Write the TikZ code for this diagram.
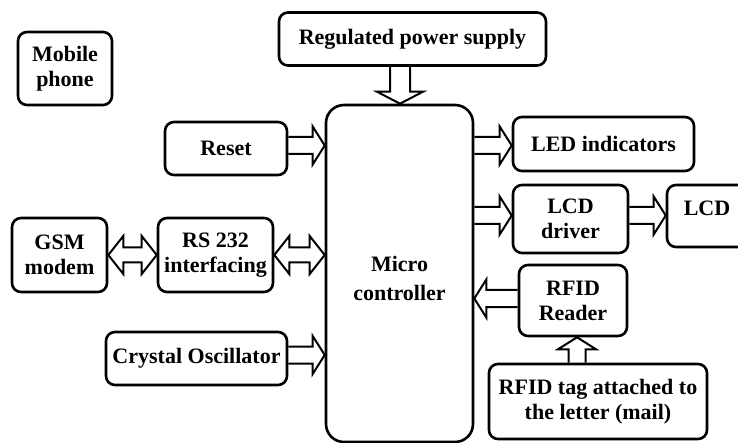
\documentclass[tikz,border=0pt]{standalone}
\usepackage{fontspec}
\setmainfont{Liberation Serif}
\usetikzlibrary{calc}
\newcommand{\faw}{8.5pt}
\newcommand{\faH}{19pt}
\newcommand{\faL}{12pt}
\tikzset{
  txt/.style={align=center, inner sep=0pt, font=\fontsize{22}{25}\selectfont\bfseries},
  box/.style={txt, draw, line width=2.6pt, rounded corners=9pt},
  fat/.style={line width=2pt, line join=miter, to path={
     ($(\tikztotarget)!\faL!(\tikztostart)$) coordinate (fab)
     ($(\tikztostart)!\faw!90:(fab)$) -- ($(fab)!\faw!-90:(\tikztostart)$)
       -- ($(fab)!\faH!-90:(\tikztostart)$) -- (\tikztotarget)
       -- ($(fab)!\faH!90:(\tikztostart)$) -- ($(fab)!\faw!90:(\tikztostart)$)
       -- ($(\tikztostart)!\faw!-90:(fab)$)}},
  fatboth/.style={line width=2pt, line join=miter, to path={
     ($(\tikztostart)!15pt!(\tikztotarget)$) coordinate (faa)
     ($(\tikztotarget)!15pt!(\tikztostart)$) coordinate (fab)
     (\tikztostart) -- ($(faa)!\faH!90:(fab)$) -- ($(faa)!7.5pt!90:(fab)$)
       -- ($(fab)!7.5pt!-90:(faa)$) -- ($(fab)!\faH!-90:(faa)$) -- (\tikztotarget)
       -- ($(fab)!\faH!90:(faa)$) -- ($(fab)!7.5pt!90:(faa)$)
       -- ($(faa)!7.5pt!-90:(fab)$) -- ($(faa)!\faH!-90:(fab)$) -- cycle}}
}
\begin{document}
\begin{tikzpicture}[x=1pt,y=-1pt]
\useasboundingbox[fill=white] (0,0) rectangle (738,443);
% boxes
\node[box, minimum width=94pt, minimum height=73pt] (mobile) at (65,68.5) {Mobile\\phone};
\node[box, minimum width=267pt, minimum height=53pt] (power) at (412.5,39) {Regulated power supply};
\node[box, minimum width=122pt, minimum height=53pt] (reset) at (226,148.5) {Reset};
\node[box, minimum width=95pt, minimum height=74pt] (gsm) at (59.5,255) {GSM\\modem};
\node[box, minimum width=115pt, minimum height=74pt] (rs) at (215.5,255) {RS 232\\interfacing};
\node[box, minimum width=181pt, minimum height=53pt] (crystal) at (196.5,358.5) {Crystal Oscillator};
\node[box, rounded corners=18pt, minimum width=147pt, minimum height=337pt] (mc) at (399.5,273.5) {};
\node[txt, font=\fontsize{22}{29}\selectfont\bfseries] (mctext) at (399.5,278) {Micro\\controller};
\node[box, minimum width=181pt, minimum height=54pt] (led) at (603.5,144) {LED indicators};
\node[box, minimum width=115pt, minimum height=68pt] (lcddrv) at (570.5,219) {LCD\\driver};
\node[box, minimum width=80pt, minimum height=62pt, text height=15pt, text depth=16pt] (lcd) at (707,216) {LCD};
\node[box, minimum width=108pt, minimum height=71pt] (reader) at (573,300.5) {RFID\\Reader};
\node[box, minimum width=218pt, minimum height=75pt] (tag) at (598,401.5) {RFID tag attached to\\the letter (mail)};
% connector end points
\coordinate (p1) at ([xshift=-12.5pt]power.south);
\coordinate (p2) at (p1 |- mc.north);
\coordinate (r1) at ([yshift=3pt]reset.east);
\coordinate (r2) at (r1 -| mc.west);
\coordinate (s2) at (rs.east -| mc.west);
\coordinate (c1) at ([yshift=3.5pt]crystal.east);
\coordinate (c2) at (c1 -| mc.west);
\coordinate (l2) at ([yshift=-1.5pt]led.west);
\coordinate (l1) at (l2 -| mc.east);
\coordinate (d2) at ([yshift=3.5pt]lcddrv.west);
\coordinate (d1) at (d2 -| mc.east);
\coordinate (d3) at ([yshift=3.5pt]lcddrv.east);
\coordinate (d4) at (d3 -| lcd.west);
\coordinate (f1) at ([yshift=2pt]reader.west);
\coordinate (f2) at (f1 -| mc.east);
\coordinate (t2) at ([xshift=4pt]reader.south);
\coordinate (t1) at (t2 |- tag.north);
% connectors
\begingroup
\renewcommand{\faw}{10pt}\renewcommand{\faH}{23pt}
\draw[fat] (p1) to (p2);
\endgroup
\draw[fat] (r1) to (r2);
\draw[fat] (c1) to (c2);
\draw[fat] (l1) to (l2);
\draw[fat] (d1) to (d2);
\draw[fat] (d3) to (d4);
\draw[fat] (f1) to (f2);
\draw[fat] (t1) to (t2);
\draw[fatboth] (gsm.east) to (rs.west);
\draw[fatboth] (rs.east) to (s2);
\end{tikzpicture}
\end{document}
